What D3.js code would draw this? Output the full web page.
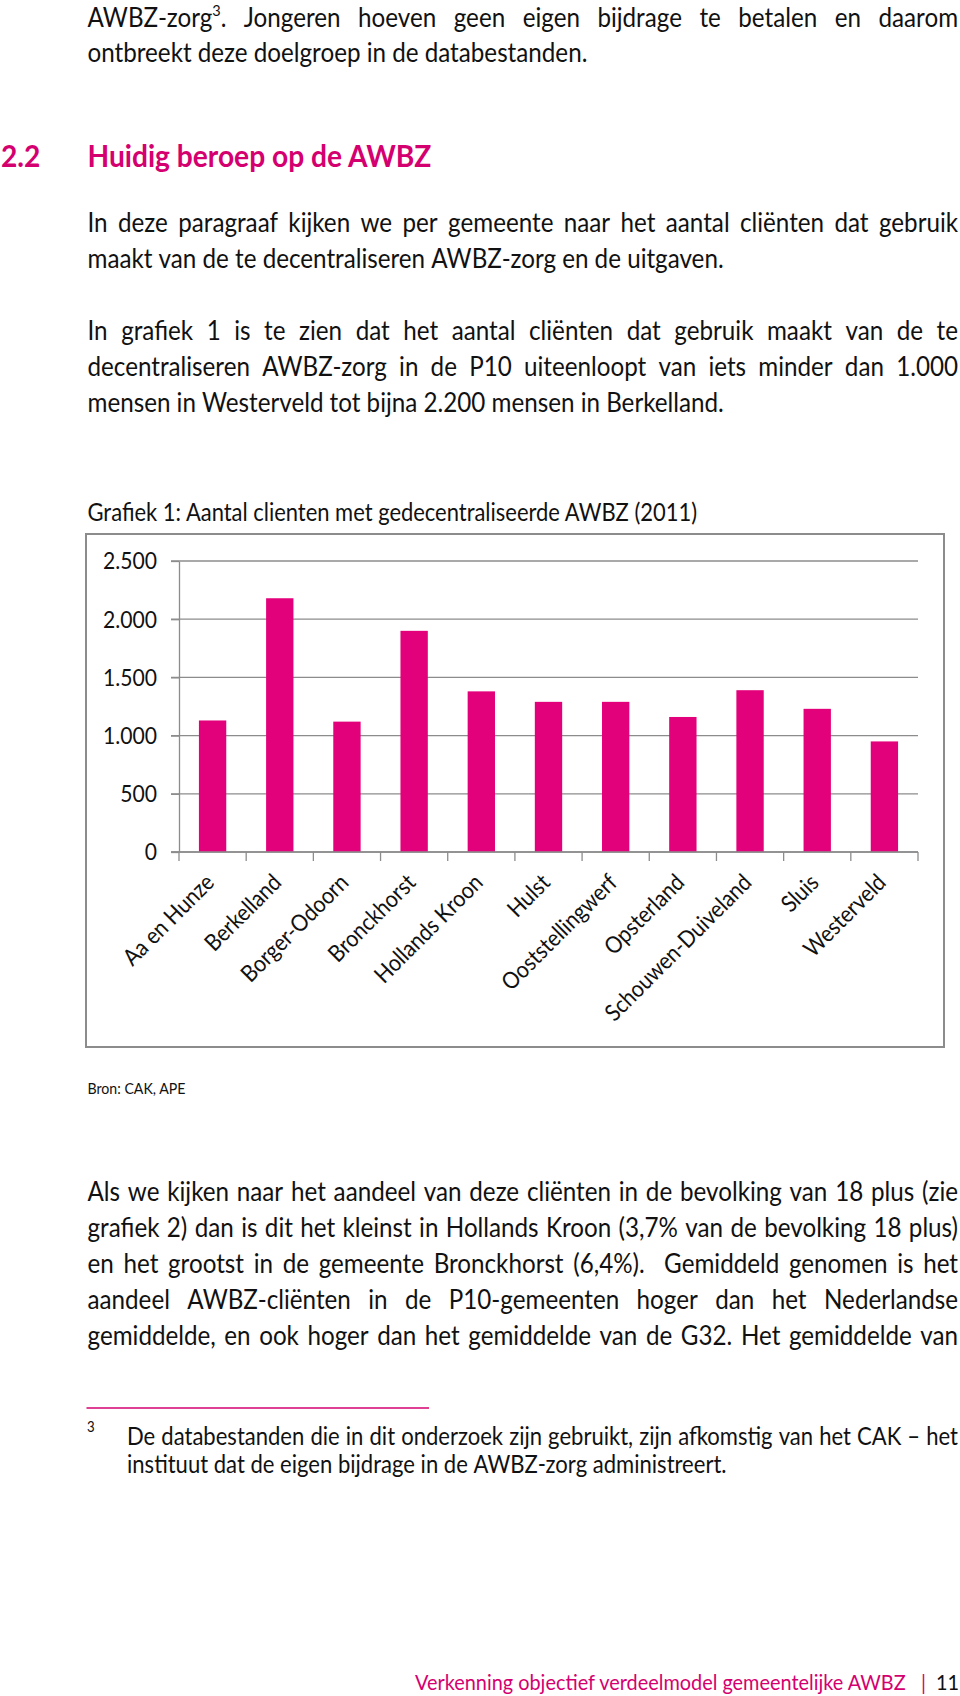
<!DOCTYPE html>
<html>
<head>
<meta charset="utf-8">
<script src="https://cdn.jsdelivr.net/npm/d3@7"></script>
<style>
  html, body { margin: 0; padding: 0; background: #ffffff; }
  svg { display: block; }
  text { font-family: Lato, "Open Sans", "DejaVu Sans", sans-serif; }
</style>
</head>
<body>
<svg id="page" width="960" height="1696"></svg>
<script>
// ---------------- DATA ----------------
const categories = ["Aa en Hunze", "Berkelland", "Borger-Odoorn", "Bronckhorst", "Hollands Kroon",
  "Hulst", "Ooststellingwerf", "Opsterland", "Schouwen-Duiveland", "Sluis", "Westerveld"];
const clients = [1130, 2180, 1120, 1900, 1380, 1290, 1290, 1160, 1390, 1230, 950];
const yTickValues = [0, 500, 1000, 1500, 2000, 2500];
const yTickLabels = ["0", "500", "1.000", "1.500", "2.000", "2.500"];

const chartTitle = "Grafiek 1: Aantal clienten met gedecentraliseerde AWBZ (2011)";
const sourceNote = "Bron: CAK, APE";
const headingNumber = "2.2";
const headingText = "Huidig beroep op de AWBZ";

const introLines = [
  "AWBZ-zorg^3. Jongeren hoeven geen eigen bijdrage te betalen en daarom",
  "ontbreekt deze doelgroep in de databestanden."
];
const para1Lines = [
  "In deze paragraaf kijken we per gemeente naar het aantal cliënten dat gebruik",
  "maakt van de te decentraliseren AWBZ-zorg en de uitgaven."
];
const para2Lines = [
  "In grafiek 1 is te zien dat het aantal cliënten dat gebruik maakt van de te",
  "decentraliseren AWBZ-zorg in de P10 uiteenloopt van iets minder dan 1.000",
  "mensen in Westerveld tot bijna 2.200 mensen in Berkelland."
];
const para3Lines = [
  "Als we kijken naar het aandeel van deze cliënten in de bevolking van 18 plus (zie",
  "grafiek 2) dan is dit het kleinst in Hollands Kroon (3,7% van de bevolking 18 plus)",
  "en het grootst in de gemeente Bronckhorst (6,4%).  Gemiddeld genomen is het",
  "aandeel AWBZ-cliënten in de P10-gemeenten hoger dan het Nederlandse",
  "gemiddelde, en ook hoger dan het gemiddelde van de G32. Het gemiddelde van"
];
const footnoteMark = "3";
const footnoteLines = [
  "De databestanden die in dit onderzoek zijn gebruikt, zijn afkomstig van het CAK – het",
  "instituut dat de eigen bijdrage in de AWBZ-zorg administreert."
];
const footerText = "Verkenning objectief verdeelmodel gemeentelijke AWBZ";
const footerPage = "11";

// ---------------- DRAW ----------------
function draw() {
  const svg = d3.select("#page");
  svg.append("rect").attr("width", 960).attr("height", 1696).attr("fill", "#ffffff");

  const PINK = "#d5006f";
  const BAR = "#e3007b";
  const INK = "#111111";
  const GRID = "#8c8c8c";
  const C = 0.9;   // horizontal squeeze of glyphs (Calibri-like proportions)

  const meas = svg.append("text").attr("visibility", "hidden").attr("x", -1000).attr("y", -1000);
  function textWidth(s, size, weight) {
    meas.attr("font-size", size).attr("font-weight", weight || "normal").text(s);
    return meas.node().getComputedTextLength();
  }
  // font size so that the squeezed text is `target` px wide
  function fit(s, target, weight) { return 100 * target / (textWidth(s, 100, weight) * C); }
  function squeezeAt(xPos, yPos, extra) {
    return `translate(${xPos},${yPos})${extra || ""} scale(${C},1)`;
  }

  function renderRich(el, str, size) {
    const parts = str.split(/\^(\d+)/);
    parts.forEach((p, i) => {
      if (p === "") return;
      if (i % 2 === 1) {
        el.append("tspan").attr("font-size", size * 0.6).attr("dy", -size * 0.42).text(p);
      } else {
        const t = el.append("tspan").text(p);
        if (i > 0) t.attr("dy", size * 0.42);
      }
    });
  }

  function drawLine(str, x0, x1, baseline, size, justify, fill, weight) {
    const g = svg.append("g");
    const words = [];
    str.split(" ").forEach(t => {
      if (t === "") { if (words.length) words[words.length - 1].after++; }
      else words.push({ t: t, after: 1 });
    });
    words[words.length - 1].after = 0;
    const spaceW = (textWidth("a a", size, weight) - textWidth("aa", size, weight)) * C;
    const items = words.map(w => {
      const el = g.append("text").attr("font-size", size).attr("font-weight", weight || "normal")
        .attr("fill", fill);
      renderRich(el, w.t, size);
      return { el: el, w: el.node().getComputedTextLength() * C, after: w.after };
    });
    const total = d3.sum(items, d => d.w);
    const nGaps = d3.sum(items, d => d.after);
    const gap = (justify && nGaps > 0) ? (x1 - x0 - total) / nGaps : spaceW;
    let x = x0;
    items.forEach(it => { it.el.attr("transform", squeezeAt(x, baseline)); x += it.w + gap * it.after; });
  }

  function plainText(str, xPos, yPos, size, fill, weight) {
    return svg.append("text").attr("transform", squeezeAt(xPos, yPos)).attr("font-size", size)
      .attr("font-weight", weight || "normal").attr("fill", fill).text(str);
  }

  // --- layout constants ---
  const LEFT = 87.5, RIGHT = 958;
  const bodySize = fit("maakt van de te decentraliseren AWBZ-zorg en de uitgaven.", 635);

  function drawParagraph(lines, baselines, justifyLast) {
    lines.forEach((l, i) => {
      const isLast = i === lines.length - 1;
      drawLine(l, LEFT, RIGHT, baselines[i], bodySize, !isLast || justifyLast, INK);
    });
  }

  drawParagraph(introLines, [27, 62], false);

  // heading
  const headSize = fit(headingText, 344, "bold");
  plainText(headingNumber, 1, 167, headSize, PINK, "bold");
  plainText(headingText, LEFT, 167, headSize, PINK, "bold");

  drawParagraph(para1Lines, [232, 268], false);
  drawParagraph(para2Lines, [340, 376, 412], false);

  // chart title
  plainText(chartTitle, LEFT, 521, fit(chartTitle, 610), INK);

  // ---------- chart ----------
  svg.append("rect").attr("x", 86).attr("y", 534).attr("width", 858).attr("height", 513)
    .attr("fill", "#ffffff").attr("stroke", GRID).attr("stroke-width", 2);

  const x = d3.scaleBand().domain(categories).range([179, 918]).padding(0);
  const y = d3.scaleLinear().domain([0, 2500]).range([852, 561]);

  const chart = svg.append("g");
  // gridlines
  chart.append("g").selectAll("line").data(yTickValues).join("line")
    .attr("x1", 171).attr("x2", x.range()[1])
    .attr("y1", d => y(d)).attr("y2", d => y(d))
    .attr("stroke", GRID).attr("stroke-width", 1.3);

  // y axis
  const ySize = fit("2.500", 54);
  const yAxis = chart.append("g").attr("transform", "translate(179,0)")
    .call(d3.axisLeft(y).tickValues(yTickValues).tickFormat((d, i) => yTickLabels[i])
      .tickSizeInner(8).tickSizeOuter(0).tickPadding(14));
  yAxis.select(".domain").attr("stroke", GRID).attr("stroke-width", 1.3);
  yAxis.selectAll(".tick line").attr("stroke", GRID).attr("stroke-width", 1.3);
  yAxis.selectAll(".tick text")
    .attr("font-size", ySize).attr("fill", INK)
    .attr("font-family", "Lato, 'Open Sans', sans-serif")
    .attr("x", 0).attr("dy", "0.34em")
    .attr("transform", squeezeAt(-22, 0));

  // bars
  const barW = x.bandwidth() * 0.407;
  chart.append("g").selectAll("rect").data(categories).join("rect")
    .attr("x", d => x(d) + (x.bandwidth() - barW) / 2)
    .attr("width", barW)
    .attr("y", (d, i) => y(clients[i]))
    .attr("height", (d, i) => y(0) - y(clients[i]))
    .attr("fill", BAR);

  // x axis line & boundary ticks
  chart.append("line").attr("x1", 171).attr("x2", x.range()[1]).attr("y1", y(0)).attr("y2", y(0))
    .attr("stroke", GRID).attr("stroke-width", 1.3);
  const bounds = categories.map(c => x(c)).concat([x.range()[1]]);
  chart.append("g").selectAll("line").data(bounds).join("line")
    .attr("x1", d => d).attr("x2", d => d).attr("y1", y(0)).attr("y2", y(0) + 9)
    .attr("stroke", GRID).attr("stroke-width", 1.3);

  // category labels
  const xSize = fit("Schouwen-Duiveland", 196);
  chart.append("g").selectAll("text").data(categories).join("text")
    .attr("text-anchor", "end")
    .attr("font-size", xSize)
    .attr("fill", INK)
    .attr("transform", d => squeezeAt(x(d) + x.bandwidth() / 2 + 3, y(0) + 32, " rotate(-45)"))
    .text(d => d);

  // source
  plainText(sourceNote, LEFT, 1094, fit(sourceNote, 98), INK);

  drawParagraph(para3Lines, [1201, 1237, 1273, 1309, 1345], true);

  // footnote
  svg.append("line").attr("x1", 86.5).attr("x2", 429).attr("y1", 1408).attr("y2", 1408)
    .attr("stroke", PINK).attr("stroke-width", 1.6);
  const fnSize = fit(footnoteLines[1], 599);
  plainText(footnoteMark, 87, 1432, fnSize * 0.6, INK);
  footnoteLines.forEach((l, i) => {
    drawLine(l, 127, RIGHT, [1445, 1473][i], fnSize, i === 0, INK);
  });

  // footer
  const footSize = fit(footerText, 491);
  plainText(footerText, 415, 1690, footSize, PINK);
  plainText("|", 921, 1690, footSize, PINK);
  plainText(footerPage, 936, 1690, footSize, INK);

  meas.remove();
}

if (document.fonts && document.fonts.ready) document.fonts.ready.then(draw); else draw();
</script>
</body>
</html>
